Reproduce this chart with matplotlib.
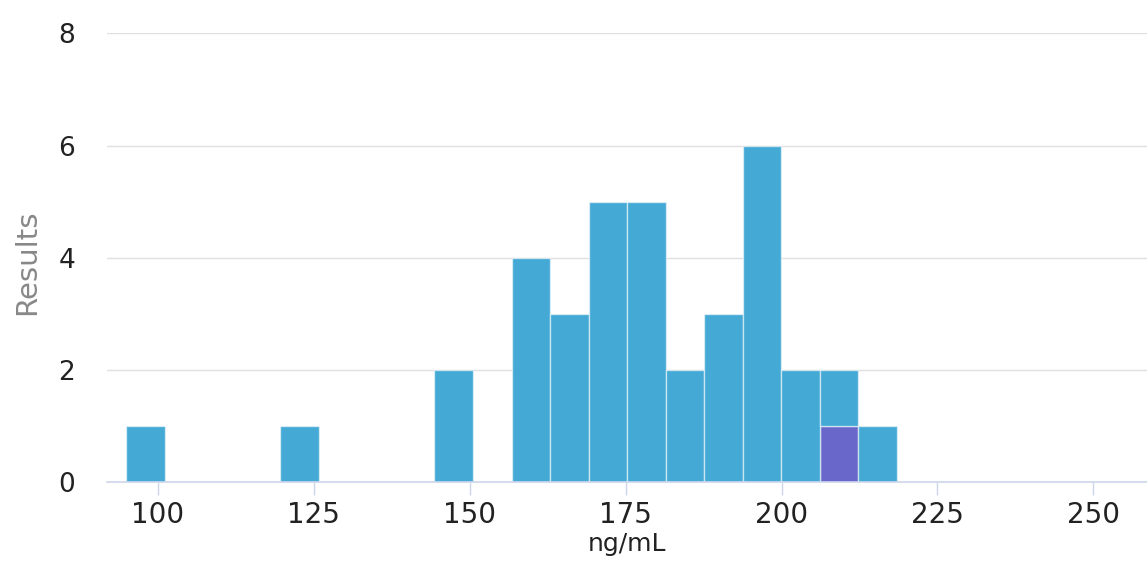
import numpy as np
import matplotlib.pyplot as plt

# Datos del histograma (ng/mL)
bin_start = 94.9
bin_width = 6.18
counts_other = [1, 0, 0, 0, 1, 0, 0, 0, 2, 0, 4, 3, 5, 5, 2, 3, 6, 2, 1, 1]
counts_highlight = [0, 0, 0, 0, 0, 0, 0, 0, 0, 0, 0, 0, 0, 0, 0, 0, 0, 0, 1, 0]
x_ticks = [100, 125, 150, 175, 200, 225, 250]
y_ticks = [0, 2, 4, 6, 8]

bin_left = bin_start + bin_width * np.arange(len(counts_other))

blue = '#45a9d6'
purple = '#6a67cb'
axis_color = '#ccd6eb'

fig = plt.figure(figsize=(11.47, 5.65), dpi=100)
ax = fig.add_axes([107 / 1147, 1 - 482.3 / 565, 1 - 107 / 1147, (482.3 - 33.3) / 565])

# Barras: serie destacada abajo, resto apilado encima
ax.bar(bin_left, counts_highlight, width=bin_width, align='edge', color=purple,
       edgecolor=(1, 1, 1, 0.55), linewidth=1, zorder=3)
ax.bar(bin_left, counts_other, width=bin_width, align='edge', bottom=counts_highlight,
       color=blue, edgecolor=(1, 1, 1, 0.55), linewidth=1, zorder=3)

ax.set_xlim(91.83, 258.6)
ax.set_ylim(0, 8)
ax.set_xticks(x_ticks)
ax.set_yticks(y_ticks)

ax.grid(axis='y', color='#e0e0e0', linewidth=1)
ax.set_axisbelow(True)

for side in ['top', 'right', 'left']:
    ax.spines[side].set_visible(False)
ax.spines['bottom'].set_color(axis_color)
ax.spines['bottom'].set_linewidth(1.2)
ax.spines['bottom'].set_zorder(4)

ax.tick_params(axis='y', length=0, pad=23, labelsize=19, labelcolor='#222222')
ax.tick_params(axis='x', length=9.4, width=1, color=axis_color, pad=4,
               labelsize=20, labelcolor='#222222')

ax.set_xlabel('ng/mL', fontsize=18, color='#222222', labelpad=2)
fig.text(27 / 1147, 1 - 262 / 565, 'Results', rotation=90, fontsize=21,
         color='#888888', ha='center', va='center')

fig.savefig('out.png', dpi=100)
